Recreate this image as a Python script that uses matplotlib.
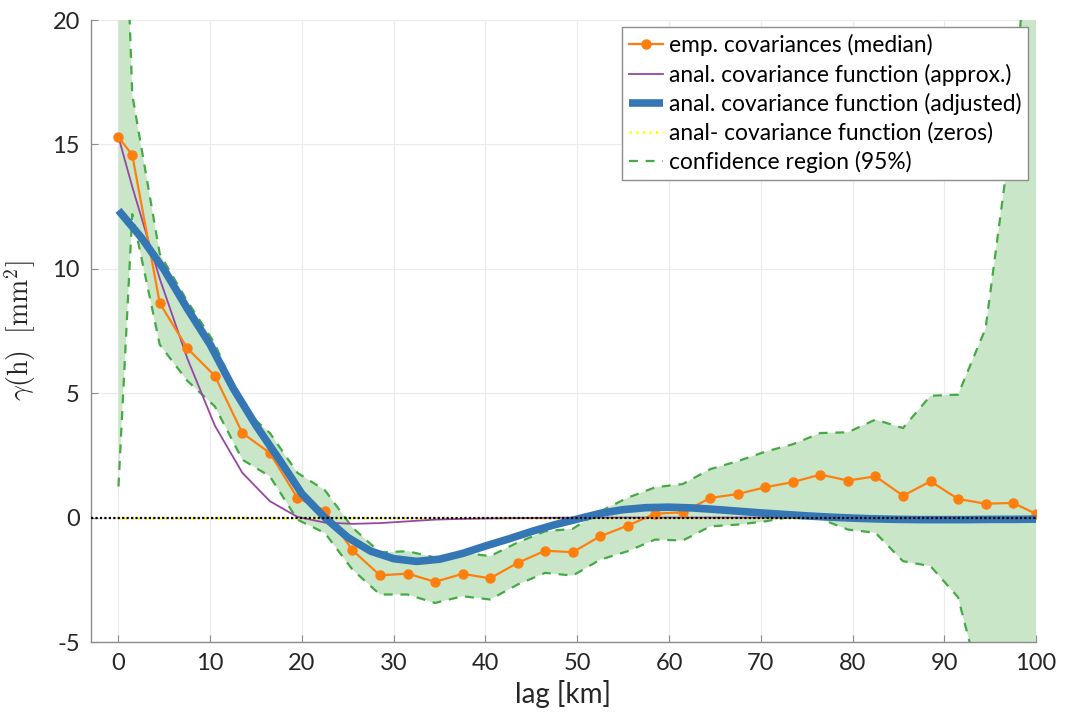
import numpy as np
import matplotlib
matplotlib.use('Agg')
import matplotlib.pyplot as plt

plt.rcParams['font.family'] = ['Lato', 'DejaVu Sans']
plt.rcParams['mathtext.fontset'] = 'cm'
plt.rcParams['axes.unicode_minus'] = False

# lag bins [km]
lag = [0, 1.5, 4.5, 7.5, 10.5, 13.5, 16.5, 19.5, 22.5, 25.5, 28.5, 31.5, 34.5,
       37.5, 40.5, 43.5, 46.5, 49.5, 52.5, 55.5, 58.5, 61.5, 64.5, 67.5, 70.5,
       73.5, 76.5, 79.5, 82.5, 85.5, 88.5, 91.5, 94.5, 97.5, 100]

emp_cov = [15.29, 14.58, 8.62, 6.81, 5.70, 3.40, 2.60, 0.79, 0.28, -1.31, -2.32,
           -2.25, -2.58, -2.26, -2.44, -1.82, -1.33, -1.39, -0.75, -0.32, 0.16,
           0.21, 0.79, 0.95, 1.22, 1.43, 1.73, 1.49, 1.66, 0.88, 1.46, 0.75,
           0.56, 0.59, 0.15]

approx_cov = [15.3, 13.3, 9.6, 6.4, 3.7, 1.8, 0.66, 0.03, -0.2, -0.25, -0.22,
              -0.15, -0.08, -0.05, -0.03, -0.02, -0.01, 0, 0, 0, 0, 0, 0, 0, 0,
              0, 0, 0, 0, 0, 0, 0, 0, 0, 0]

conf_upper = [33, 17.0, 10.6, 8.7, 7.0, 4.4, 3.4, 1.8, 1.1, -0.4, -1.4, -1.35,
              -1.6, -1.4, -1.55, -1.0, -0.55, -0.45, 0.25, 0.8, 1.22, 1.35, 1.95,
              2.27, 2.65, 2.95, 3.4, 3.43, 3.94, 3.6, 4.9, 4.94, 7.6, 16, 28]

conf_lower = [1.25, 12.2, 6.95, 5.5, 4.47, 2.33, 1.66, -0.08, -0.62, -2.09, -3.09,
              -3.09, -3.43, -3.16, -3.29, -2.69, -2.22, -2.33, -1.69, -1.35, -0.88,
              -0.92, -0.35, -0.28, -0.15, 0.05, -0.05, -0.48, -0.61, -1.75, -1.95,
              -3.2, -7.5, -14, -25]

# adjusted analytical covariance function
lag_fit = [0, 2.5, 5, 7.5, 10, 12.5, 15, 17.5, 20, 22.5, 25, 27.5, 30, 32.5, 35,
           37.5, 40, 42.5, 45, 47.5, 50, 52.5, 55, 57.5, 60, 62.5, 65, 67.5, 70,
           72.5, 75, 77.5, 80, 82.5, 85, 87.5, 90, 92.5, 95, 97.5, 100]
adj_cov = [12.35, 11.25, 9.95, 8.4, 6.95, 5.2, 3.7, 2.35, 0.95, 0.0, -0.8, -1.35,
           -1.65, -1.76, -1.67, -1.44, -1.14, -0.86, -0.56, -0.29, -0.06, 0.17,
           0.32, 0.4, 0.42, 0.39, 0.33, 0.26, 0.19, 0.13, 0.07, 0.02, -0.02,
           -0.05, -0.07, -0.08, -0.08, -0.08, -0.07, -0.07, -0.06]

fig = plt.figure(figsize=(10.65, 7.2), dpi=100)
ax = fig.add_axes([0.0854, 0.1083, 0.8874, 0.8639])

ax.fill_between(lag, conf_lower, conf_upper, color='#c9e6c8', lw=0, zorder=1)
ax.plot(lag, emp_cov, color='#ff7f0e', lw=1.6, marker='o', ms=6.5, zorder=5,
        label='emp. covariances (median)')
ax.plot(lag, approx_cov, color='#9646a3', lw=1.3, zorder=4,
        label='anal. covariance function (approx.)')
ax.plot(lag_fit, adj_cov, color='#3577b5', lw=5.5, solid_capstyle='butt',
        solid_joinstyle='round', zorder=6,
        label='anal. covariance function (adjusted)')
ax.plot([lag[0], lag[-1]], [0, 0], color='#ffff00', lw=1.8, ls=':', zorder=3,
        label='anal- covariance function (zeros)')
ax.plot(lag, conf_upper, color='#44aa44', lw=1.6, ls=(0, (4, 3.5)), zorder=3,
        label='confidence region (95%)')
ax.plot(lag, conf_lower, color='#44aa44', lw=1.6, ls=(0, (4, 3.5)), zorder=3)
ax.plot([-3, 100], [0, 0], color='black', lw=1.6, ls=(0, (1, 1)), zorder=7)

ax.set_xlim(-3, 100)
ax.set_ylim(-5, 20)
ax.set_xticks(np.arange(0, 101, 10))
ax.set_yticks(np.arange(-5, 21, 5))
ax.grid(True, color='#ebebeb', lw=0.8)
ax.set_axisbelow(True)
for s in ['top', 'right']:
    ax.spines[s].set_visible(False)
for s in ['left', 'bottom']:
    ax.spines[s].set_color('#8c8c8c')
    ax.spines[s].set_linewidth(1.0)
ax.tick_params(direction='in', length=5, color='#8c8c8c', labelsize=17,
               labelcolor='#262626', pad=8)

ax.set_xlabel('lag [km]', fontsize=20, color='#262626', labelpad=4)
ax.set_ylabel(r'$\gamma(\mathrm{h})\ \ [\mathrm{mm}^2]$', fontsize=20,
              color='#262626', labelpad=10)

leg = ax.legend(loc='upper right', bbox_to_anchor=(0.9915, 0.988), fontsize=16.4,
                handlelength=1.5, handletextpad=0.25, labelspacing=0.32,
                borderpad=0.3, borderaxespad=0, fancybox=False, framealpha=1,
                edgecolor='#8c8c8c')
leg.get_frame().set_linewidth(1.0)
leg.set_zorder(10)

fig.savefig('out.png', dpi=100)
